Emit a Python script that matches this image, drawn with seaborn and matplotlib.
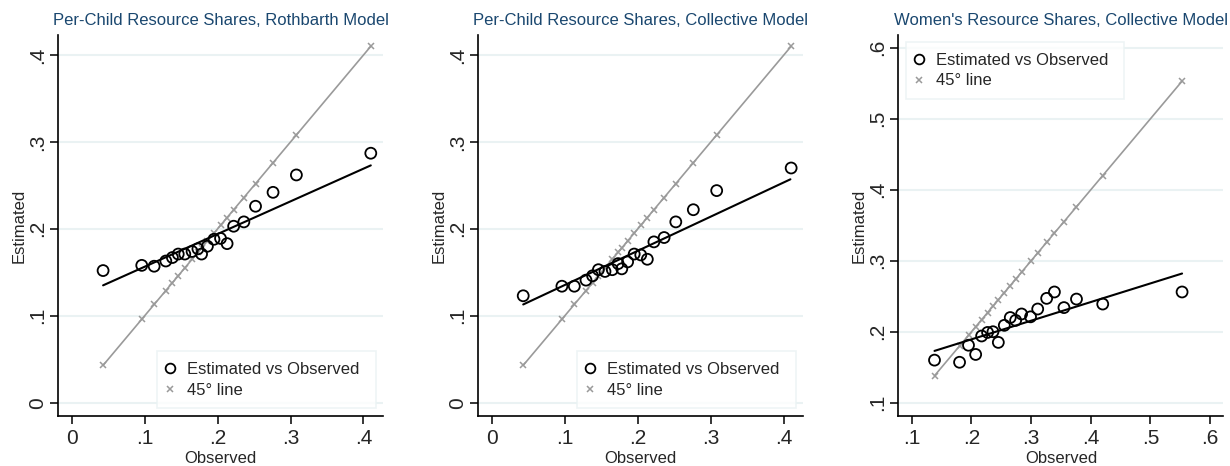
import matplotlib

matplotlib.use("Agg")
import matplotlib.pyplot as plt
import seaborn as sns
import pandas as pd
from matplotlib.lines import Line2D

# =========================
# Data
# =========================
# per-child panels share the same observed bins
obs_child = [0.043, 0.096, 0.113, 0.129, 0.138, 0.146, 0.155, 0.165, 0.173, 0.178,
             0.186, 0.195, 0.204, 0.213, 0.222, 0.236, 0.252, 0.276, 0.308, 0.410]
est_rothbarth = [0.152, 0.158, 0.157, 0.163, 0.167, 0.171, 0.171, 0.174, 0.177, 0.171,
                 0.180, 0.188, 0.189, 0.183, 0.203, 0.208, 0.226, 0.242, 0.262, 0.287]
est_collective = [0.123, 0.134, 0.134, 0.141, 0.146, 0.153, 0.151, 0.153, 0.160, 0.154,
                  0.162, 0.171, 0.170, 0.165, 0.185, 0.190, 0.208, 0.222, 0.244, 0.270]

obs_women = [0.138, 0.180, 0.195, 0.207, 0.217, 0.227, 0.236, 0.245, 0.255, 0.265,
             0.274, 0.284, 0.299, 0.311, 0.326, 0.339, 0.355, 0.376, 0.420, 0.553]
est_women = [0.160, 0.157, 0.181, 0.168, 0.194, 0.199, 0.200, 0.185, 0.209, 0.220,
             0.216, 0.225, 0.221, 0.232, 0.247, 0.256, 0.234, 0.246, 0.239, 0.256]

# fitted lines (end points as drawn in the reference)
fit_rothbarth_x = [0.043, 0.410]
fit_rothbarth_y = [0.135, 0.273]
fit_collective_x = [0.043, 0.409]
fit_collective_y = [0.113, 0.257]
fit_women_x = [0.138, 0.553]
fit_women_y = [0.173, 0.282]

titles = [
    "Per-Child Resource Shares, Rothbarth Model",
    "Per-Child Resource Shares, Collective Model",
    "Women's Resource Shares, Collective Model",
]
child_ticks = [0, 0.1, 0.2, 0.3, 0.4]
child_tick_labels = ["0", ".1", ".2", ".3", ".4"]
women_ticks = [0.1, 0.2, 0.3, 0.4, 0.5, 0.6]
women_tick_labels = [".1", ".2", ".3", ".4", ".5", ".6"]

# =========================
# Style
# =========================
sns.set_style("ticks")
plt.rcParams["font.family"] = ["Liberation Sans", "DejaVu Sans"]

TITLE_COLOR = "#1a476f"
GRID_COLOR = "#eaf2f3"
GRAY = "#9a9a9a"

fig, axes = plt.subplots(1, 3, figsize=(12.3, 4.66), dpi=100)
fig.subplots_adjust(left=0.0474, right=0.9946, bottom=0.1073, top=0.9249, wspace=0.293)

panels = [
    (obs_child, est_rothbarth, fit_rothbarth_x, fit_rothbarth_y,
     child_ticks, child_tick_labels, (-0.0184, 0.427), (-0.0153, 0.423), "lower right"),
    (obs_child, est_collective, fit_collective_x, fit_collective_y,
     child_ticks, child_tick_labels, (-0.0184, 0.4266), (-0.0153, 0.423), "lower right"),
    (obs_women, est_women, fit_women_x, fit_women_y,
     women_ticks, women_tick_labels, (0.0776, 0.6222), (0.0813, 0.618), "upper left"),
]

for ax, title, (obs, est, fx, fy, ticks, tlabels, xlim, ylim, loc) in zip(axes, titles, panels):
    df = pd.DataFrame({"obs": obs, "est": est})

    # --- 45 degree line ---
    sns.lineplot(x=df["obs"], y=df["obs"], ax=ax, color=GRAY, lw=1.2,
                 marker="x", markersize=4, markeredgewidth=1.1,
                 markeredgecolor=GRAY, zorder=2)

    # --- fitted line ---
    sns.lineplot(x=fx, y=fy, ax=ax, color="black", lw=1.5, zorder=3)

    # --- binned points ---
    sns.scatterplot(x="obs", y="est", data=df, ax=ax, marker="o", s=62,
                    facecolor="none", edgecolor="black", linewidth=1.3, zorder=4)

    ax.set_xlim(*xlim)
    ax.set_ylim(*ylim)
    ax.set_xticks(ticks)
    ax.set_xticklabels(tlabels, fontsize=15)
    ax.set_yticks(ticks)
    ax.set_yticklabels(tlabels, fontsize=15, rotation=90, va="center")
    ax.tick_params(axis="both", length=5.5, width=1.1, color="black")
    ax.tick_params(axis="x", pad=4)
    ax.tick_params(axis="y", pad=2.5)

    ax.yaxis.grid(True, color=GRID_COLOR, lw=1.5)
    ax.set_axisbelow(True)
    sns.despine(ax=ax)
    for side in ("left", "bottom"):
        ax.spines[side].set_linewidth(1.2)
        ax.spines[side].set_color("black")

    ax.set_title(title, fontsize=12, color=TITLE_COLOR, pad=7)
    ax.set_xlabel("Observed", fontsize=12, labelpad=2)
    ax.set_ylabel("Estimated", fontsize=12, labelpad=1)

    # --- legend ---
    handles = [
        Line2D([], [], ls="none", marker="o", markersize=7, markerfacecolor="none",
               markeredgecolor="black", markeredgewidth=1.3),
        Line2D([], [], ls="none", marker="x", markersize=4, markeredgecolor=GRAY,
               markeredgewidth=1.1),
    ]
    if loc == "lower right":
        anchor = (0.303, 0.020, 0.675, 0.25)
    else:
        anchor = (0.0236, 0.73, 0.672, 0.2524)
    leg = ax.legend(handles, ["Estimated vs Observed", "45° line"], loc=loc,
                    bbox_to_anchor=anchor, mode="expand", borderaxespad=0,
                    fontsize=12, frameon=True, fancybox=False,
                    handletextpad=0.89, handlelength=0.26, borderpad=0.65,
                    labelspacing=0.35)
    leg.get_frame().set_edgecolor(GRID_COLOR)
    leg.get_frame().set_linewidth(1.2)

plt.savefig("out.png", dpi=100)
